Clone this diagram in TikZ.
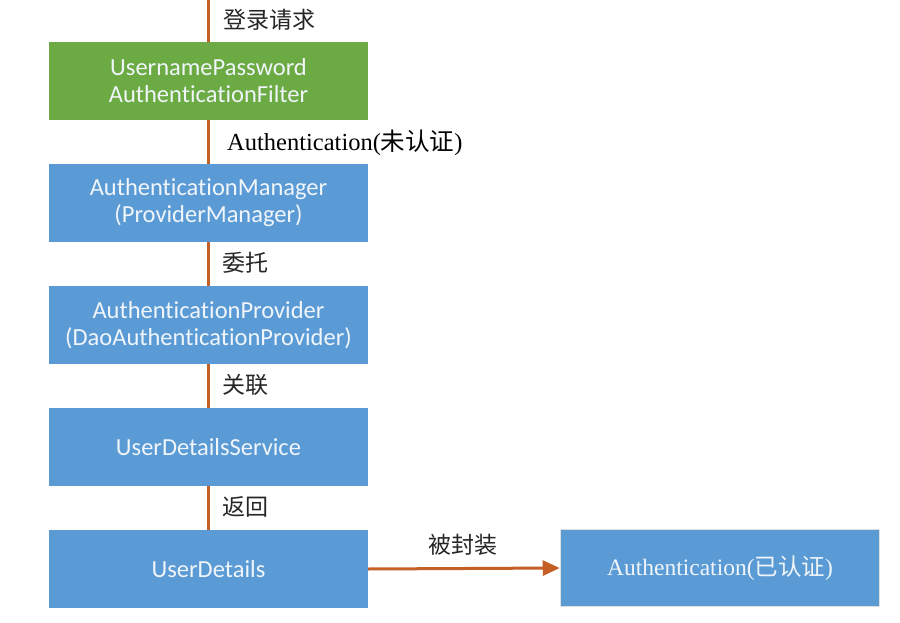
\documentclass[tikz,border=0pt]{standalone}
\usepackage{fontspec}
\setmainfont{Liberation Serif}
\newfontfamily\boxfont[Ligatures=NoCommon]{Carlito}
\newfontfamily\cjk{Noto Sans CJK SC}
\usetikzlibrary{arrows.meta}
\definecolor{boxgreen}{RGB}{108,171,68}
\definecolor{boxblue}{RGB}{91,155,213}
\definecolor{linkorange}{RGB}{196,96,38}
\definecolor{boxtext}{RGB}{240,245,250}
\tikzset{
  flowbox/.style={fill=boxblue, draw=none, minimum width=319pt, minimum height=78pt,
    inner sep=0pt, align=center, text=boxtext,
    font=\boxfont\fontsize{24.5}{27}\selectfont},
  greenbox/.style={flowbox, fill=boxgreen},
  resultbox/.style={flowbox, minimum width=319pt, minimum height=77pt,
    draw=black!12, line width=1.5pt,
    font=\fontsize{23.5}{26}\selectfont},
  link/.style={draw=linkorange, line width=3.5pt},
  linklabel/.style={anchor=west, inner sep=0pt, text=black!85,
    font=\fontsize{23}{26}\selectfont},
}
\begin{document}
\begin{tikzpicture}[x=1pt, y=-1pt]
\useasboundingbox (0,0) rectangle (900,623);
\fill[white] (0,0) rectangle (900,623);
\node[greenbox]  (filter)   at (208.5,81)  {UsernamePassword\\AuthenticationFilter};
\node[flowbox]   (manager)  at (208.5,203) {AuthenticationManager\\(ProviderManager)};
\node[flowbox]   (provider) at (208.5,325) {AuthenticationProvider\\(DaoAuthenticationProvider)};
\node[flowbox]   (service)  at (208.5,447) {UserDetailsService};
\node[flowbox]   (details)  at (208.5,569) {UserDetails};
\node[resultbox] (auth)     at (720,568) {Authentication({\cjk 已认证})};
\coordinate (start) at (208.5,0);
\draw[link] (start) -- (filter.north);
\draw[link] (filter.south) -- (manager.north);
\draw[link] (manager.south) -- (provider.north);
\draw[link] (provider.south) -- (service.north);
\draw[link] (service.south) -- (details.north);
\draw[link, line width=3pt, -{Triangle[length=17pt,width=15pt]}] (details.east) -- (auth.west);
\node[linklabel] (l1) at (223,20)  {\cjk 登录请求};
\node[linklabel, font=\fontsize{24.5}{27}\selectfont, text=black] (l2) at (227,143) {Authentication({\cjk 未认证})};
\node[linklabel] (l3) at (222,263) {\cjk 委托};
\node[linklabel] (l4) at (222,385) {\cjk 关联};
\node[linklabel] (l5) at (222,507) {\cjk 返回};
\node[linklabel] (l6) at (428,545) {\cjk 被封装};
\end{tikzpicture}
\end{document}
